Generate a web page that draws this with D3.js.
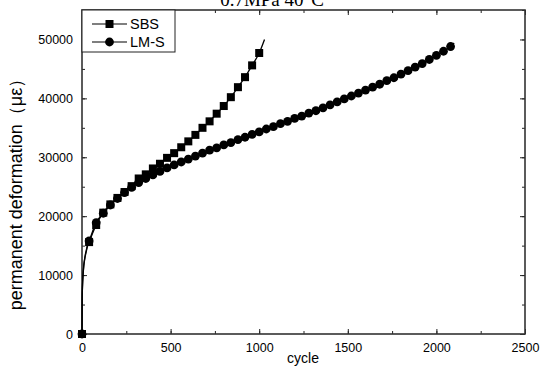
<!DOCTYPE html>
<html>
<head>
<meta charset="utf-8">
<script src="https://cdn.jsdelivr.net/npm/d3@7"></script>
<style>
  html, body { margin: 0; padding: 0; background: #fff; }
  svg { display: block; }
</style>
</head>
<body>
<svg id="chart" width="541" height="367"></svg>
<script>
// Loading cycles and measured permanent deformation (με)
const sbsCycles = [0, 40, 80, 120, 160, 200, 240, 280, 320, 360, 400, 440, 480, 520, 560, 600, 640, 680, 720, 760, 800, 840, 880, 920, 960, 1000];
const sbsValues = [0, 15600, 18500, 20600, 22000, 23100, 24100, 25100, 26400, 27100, 28100, 28900, 29900, 30700, 31700, 32700, 33800, 35000, 36100, 37400, 38700, 40200, 41900, 43600, 45600, 47700];

const lmsCycles = [0, 40, 80, 120, 160, 200, 240, 280, 320, 360, 400, 440, 480, 520, 560, 600, 640, 680, 720, 760, 800, 840, 880, 920, 960, 1000, 1040, 1080, 1120, 1160, 1200, 1240, 1280, 1320, 1360, 1400, 1440, 1480, 1520, 1560, 1600, 1640, 1680, 1720, 1760, 1800, 1840, 1880, 1920, 1960, 2000, 2040, 2080];
const lmsValues = [0, 15800, 18900, 20500, 21900, 23000, 24000, 24900, 25700, 26400, 27000, 27600, 28200, 28700, 29200, 29700, 30200, 30700, 31200, 31600, 32100, 32500, 33000, 33400, 33900, 34300, 34800, 35200, 35700, 36100, 36600, 37000, 37500, 37900, 38400, 38900, 39400, 39900, 40400, 40900, 41400, 41900, 42400, 43000, 43500, 44100, 44700, 45300, 45900, 46600, 47300, 48000, 48800];

// Fitted curves: early rise near the origin and the short run past the last test point
const fitStartCycles = [0, 1, 3, 6, 10, 16, 24, 32];
const sbsFitStart = [0, 6000, 8200, 10000, 11500, 12800, 14000, 15000];
const lmsFitStart = [0, 6000, 8300, 10100, 11700, 13000, 14200, 15200];
const sbsFitEndCycles = [1030];
const sbsFitEndValues = [50000];
const lmsFitEndCycles = [2100];
const lmsFitEndValues = [49400];

const xTicks = [0, 500, 1000, 1500, 2000, 2500];
const yTicks = [0, 10000, 20000, 30000, 40000, 50000];
const seriesNames = ["SBS", "LM-S"];
const chartTitle = "0.7MPa 40°C";
const xTitle = "cycle";
const yTitle = "permanent deformation（με）";

const svg = d3.select("#chart");
const margin = { left: 82, right: 16, top: 10, bottom: 33 };
const W = 541, H = 367;

const x = d3.scaleLinear().domain([0, 2500]).range([margin.left, W - margin.right]);
const y = d3.scaleLinear().domain([0, 55000]).range([H - margin.bottom, margin.top]);

const tickFont = "Liberation Sans, Arial, sans-serif";

// title, only its lower part shows above the frame
svg.append("text")
  .attr("x", 272).attr("y", 6)
  .attr("text-anchor", "middle")
  .attr("font-family", "Liberation Serif, Times New Roman, serif")
  .attr("font-size", 19)
  .text(chartTitle);

function addAxis(axisGen, transform, withLabels) {
  const g = svg.append("g").attr("transform", transform).call(axisGen);
  g.select(".domain").remove();
  g.selectAll("line").attr("stroke", "#222").attr("stroke-width", 1);
  if (!withLabels) g.selectAll("text").remove();
  else g.selectAll("text").attr("font-family", tickFont).attr("font-size", 12.5).attr("fill", "#000");
  return g;
}

const xMinor = d3.range(0, 2501, 250);
const yMinor = d3.range(0, 55001, 5000);

// minor ticks
addAxis(d3.axisBottom(x).tickValues(xMinor).tickSize(-3).tickFormat(""), `translate(0,${y(0)})`, false);
addAxis(d3.axisTop(x).tickValues(xMinor).tickSize(-3).tickFormat(""), `translate(0,${margin.top})`, false);
addAxis(d3.axisLeft(y).tickValues(yMinor).tickSize(-3).tickFormat(""), `translate(${margin.left},0)`, false);
addAxis(d3.axisRight(y).tickValues(yMinor).tickSize(-3).tickFormat(""), `translate(${W - margin.right},0)`, false);

// major ticks with labels
addAxis(d3.axisBottom(x).tickValues(xTicks).tickSize(-5).tickPadding(9).tickFormat(d3.format("d")), `translate(0,${y(0)})`, true);
addAxis(d3.axisTop(x).tickValues(xTicks).tickSize(-5).tickFormat(""), `translate(0,${margin.top})`, false);
addAxis(d3.axisLeft(y).tickValues(yTicks).tickSize(-5).tickPadding(9).tickFormat(d3.format("d")), `translate(${margin.left},0)`, true);
addAxis(d3.axisRight(y).tickValues(yTicks).tickSize(-5).tickFormat(""), `translate(${W - margin.right},0)`, false);

// frame
svg.append("rect")
  .attr("x", margin.left).attr("y", margin.top)
  .attr("width", W - margin.right - margin.left)
  .attr("height", y(0) - margin.top)
  .attr("fill", "none").attr("stroke", "#333").attr("stroke-width", 1.6);

// axis titles
svg.append("text")
  .attr("x", 303).attr("y", 363)
  .attr("text-anchor", "middle")
  .attr("font-family", tickFont).attr("font-size", 14)
  .text(xTitle);

svg.append("text")
  .attr("transform", "translate(22,190) rotate(-90)")
  .attr("text-anchor", "middle")
  .attr("font-family", tickFont).attr("font-size", 18)
  .text(yTitle);

const line = d3.line().x(d => x(d[0])).y(d => y(d[1])).curve(d3.curveMonotoneX);

function series(cycles, values, startVals, endCycles, endVals) {
  const pts = cycles.map((c, i) => [c, values[i]]);
  const start = fitStartCycles.map((c, i) => [c, startVals[i]]);
  const end = endCycles.map((c, i) => [c, endVals[i]]);
  const curve = start.concat(pts.filter(p => p[0] > fitStartCycles[fitStartCycles.length - 1])).concat(end);
  return { pts, curve };
}

const sbs = series(sbsCycles, sbsValues, sbsFitStart, sbsFitEndCycles, sbsFitEndValues);
const lms = series(lmsCycles, lmsValues, lmsFitStart, lmsFitEndCycles, lmsFitEndValues);

const plot = svg.append("g");

[lms, sbs].forEach(s => {
  plot.append("path").datum(s.curve)
    .attr("d", line).attr("fill", "none")
    .attr("stroke", "#000").attr("stroke-width", 1.3);
});

const sq = 8;
const rad = 4.4;
plot.selectAll(".lms").data(lms.pts).enter().append("circle")
  .attr("cx", d => x(d[0])).attr("cy", d => y(d[1])).attr("r", rad).attr("fill", "#000");
plot.selectAll(".sbs").data(sbs.pts).enter().append("rect")
  .attr("x", d => x(d[0]) - sq / 2).attr("y", d => y(d[1]) - sq / 2)
  .attr("width", sq).attr("height", sq).attr("fill", "#000");

// legend
const lg = svg.append("g");
lg.append("rect")
  .attr("x", margin.left).attr("y", margin.top)
  .attr("width", 93).attr("height", 42)
  .attr("fill", "#fff").attr("stroke", "#222").attr("stroke-width", 1);
seriesNames.forEach((name, i) => {
  const ly = margin.top + 14 + i * 18;
  lg.append("line").attr("x1", 92).attr("x2", 127).attr("y1", ly).attr("y2", ly)
    .attr("stroke", "#000").attr("stroke-width", 1.2);
  if (i === 0) {
    lg.append("rect").attr("x", 109.5 - sq / 2).attr("y", ly - sq / 2).attr("width", sq).attr("height", sq).attr("fill", "#000");
  } else {
    lg.append("circle").attr("cx", 109.5).attr("cy", ly).attr("r", rad).attr("fill", "#000");
  }
  lg.append("text").attr("x", 130).attr("y", ly + 5)
    .attr("font-family", tickFont).attr("font-size", 14.5)
    .text(name);
});
</script>
</body>
</html>
